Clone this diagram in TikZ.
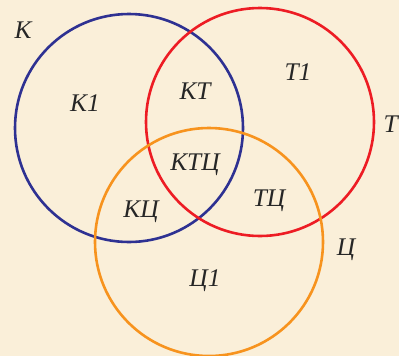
\documentclass[tikz,border=0pt]{standalone}
\usepackage{fontspec}
\setmainfont{Liberation Serif}
\definecolor{paper}{HTML}{FAEFD9}
\definecolor{setk}{HTML}{2E3192}
\definecolor{sett}{HTML}{ED1C24}
\definecolor{setc}{HTML}{F7931E}
\begin{document}
\begin{tikzpicture}[
  x=1bp, y=-1bp,
  ring/.style={line width=2.6bp},
  every node/.style={inner sep=0pt,text=black!85,
    font=\fontsize{25.5}{25.5}\selectfont\itshape}
]
\fill[paper] (0,0) rectangle (399,356);
\useasboundingbox (0,0) rectangle (399,356);
\draw[ring,setk] (129,128) circle[radius=114];
\draw[ring,sett] (260,122) circle[radius=114];
\draw[ring,setc] (209,242) circle[radius=114];
\node (k)   at (23,30)   {К};
\node (k1)  at (85,103)  {К1};
\node (kt)  at (195,91)  {КТ};
\node (t1)  at (298,72)  {Т1};
\node[anchor=east] (t) at (398,124) {Т};
\node (ktc) at (195,165) {КТЦ};
\node (kc)  at (141,212) {КЦ};
\node (tc)  at (269,201) {ТЦ};
\node (c)   at (346,250) {Ц};
\node (c1)  at (205,281) {Ц1};
\end{tikzpicture}
\end{document}
